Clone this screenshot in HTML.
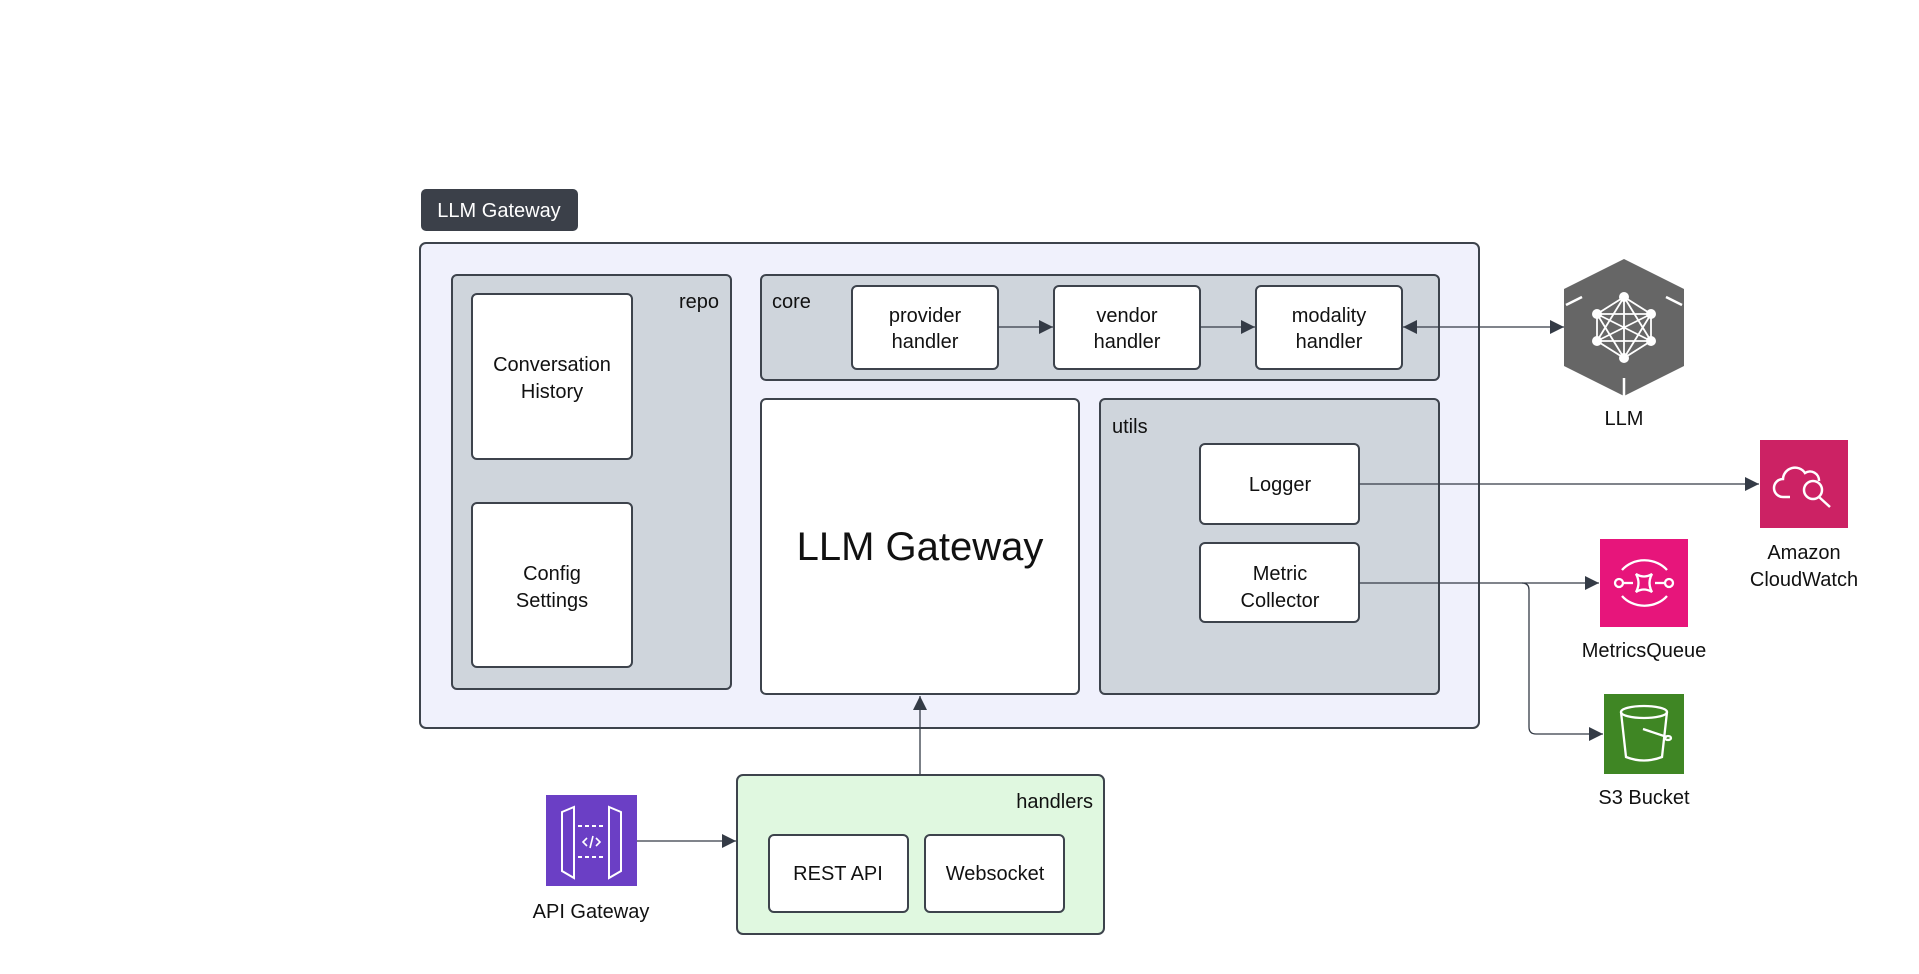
<!DOCTYPE html>
<html><head><meta charset="utf-8"><style>
html,body{margin:0;padding:0;background:#fff;}
svg{display:block;font-family:"Liberation Sans",sans-serif;}
</style></head><body>
<svg width="1919" height="974" viewBox="0 0 1919 974" xmlns="http://www.w3.org/2000/svg">
<defs>
<marker id="arb" viewBox="0 0 10 10" refX="10" refY="5" markerWidth="14" markerHeight="14" markerUnits="userSpaceOnUse" orient="auto-start-reverse"><path d="M0,0 L10,5 L0,10 z" fill="#343b46"/></marker>
</defs>
<g stroke="#3d434c" stroke-width="2">
<rect x="421" y="189" width="157" height="42" rx="5" fill="#3b4049" stroke="none"/>
<rect x="420" y="243" width="1059" height="485" rx="6" fill="#f0f1fc"/>
<rect x="452" y="275" width="279" height="414" rx="5" fill="#cfd5dc"/>
<rect x="472" y="294" width="160" height="165" rx="5" fill="#fff"/>
<rect x="472" y="503" width="160" height="164" rx="5" fill="#fff"/>
<rect x="761" y="275" width="678" height="105" rx="5" fill="#cfd5dc"/>
<rect x="852" y="286" width="146" height="83" rx="5" fill="#fff"/>
<rect x="1054" y="286" width="146" height="83" rx="5" fill="#fff"/>
<rect x="1256" y="286" width="146" height="83" rx="5" fill="#fff"/>
<rect x="761" y="399" width="318" height="295" rx="5" fill="#fff"/>
<rect x="1100" y="399" width="339" height="295" rx="5" fill="#cfd5dc"/>
<rect x="1200" y="444" width="159" height="80" rx="5" fill="#fff"/>
<rect x="1200" y="543" width="159" height="79" rx="5" fill="#fff"/>
<rect x="737" y="775" width="367" height="159" rx="6" fill="#e0f8e0"/>
<rect x="769" y="835" width="139" height="77" rx="5" fill="#fff"/>
<rect x="925" y="835" width="139" height="77" rx="5" fill="#fff"/>
</g>
<g stroke="#343b46" stroke-width="1.3" fill="none">
<line x1="998" y1="327" x2="1053" y2="327" marker-end="url(#arb)"/>
<line x1="1200" y1="327" x2="1255" y2="327" marker-end="url(#arb)"/>
<line x1="1403" y1="327" x2="1564" y2="327" marker-start="url(#arb)" marker-end="url(#arb)"/>
<line x1="1359" y1="484" x2="1759" y2="484" marker-end="url(#arb)"/>
<line x1="1359" y1="583" x2="1599" y2="583" marker-end="url(#arb)"/>
<path d="M1522,583 Q1529,583 1529,590 L1529,727 Q1529,734 1536,734 L1603,734" marker-end="url(#arb)"/>
<line x1="920" y1="774" x2="920" y2="696" marker-end="url(#arb)"/>
<line x1="637" y1="841" x2="736" y2="841" marker-end="url(#arb)"/>
</g>
<polygon points="1624,259 1684,289 1684,366 1624,396 1564,366 1564,289" fill="#666"/>
<g stroke="#fff" stroke-width="2.5" fill="none">
<line x1="1566" y1="305" x2="1582" y2="297"/><line x1="1682" y1="305" x2="1666" y2="297"/><line x1="1624" y1="378" x2="1624" y2="396"/>
<g stroke-width="1.8">
<path d="M1624,297 L1597,314 L1597,341 L1624,358 L1651,341 L1651,314 Z"/>
<path d="M1624,297 L1597,341 L1651,341 Z M1624,358 L1597,314 L1651,314 Z M1624,297 L1624,358 M1597,314 L1651,341 M1651,314 L1597,341"/>
</g>
</g>
<g fill="#fff"><circle cx="1624" cy="297" r="5"/><circle cx="1597" cy="314" r="5"/><circle cx="1651" cy="314" r="5"/><circle cx="1597" cy="341" r="5"/><circle cx="1651" cy="341" r="5"/><circle cx="1624" cy="358" r="5"/></g>
<rect x="1760" y="440" width="88" height="88" fill="#cc2264"/>
<g stroke="#fff" stroke-width="2.5" fill="none">
<path d="M1790,497 h-7 a9,9 0 0 1 0,-18 a12,12 0 0 1 22,-6 a9,9 0 0 1 14,8"/>
<circle cx="1813" cy="490" r="9"/><line x1="1819" y1="497" x2="1830" y2="507"/>
</g>
<rect x="1600" y="539" width="88" height="88" fill="#e7157b"/>
<g stroke="#fff" stroke-width="2.3" fill="none">
<path d="M1622,570 a28,24 0 0 1 45,0 M1622,596 a28,24 0 0 0 45,0"/>
<circle cx="1619" cy="583" r="4"/><circle cx="1669" cy="583" r="4"/>
<path d="M1636,574 q8,5 16,0 q-5,9 0,18 q-8,-5 -16,0 q5,-9 0,-18z"/>
<line x1="1624" y1="583" x2="1633" y2="583"/><line x1="1655" y1="583" x2="1664" y2="583"/>
</g>
<rect x="1604" y="694" width="80" height="80" fill="#3f8624"/>
<g stroke="#fff" stroke-width="2.3" fill="none">
<ellipse cx="1644" cy="712" rx="23" ry="6"/>
<path d="M1621,712 L1626,757 Q1644,764 1662,757 L1667,712"/>
<path d="M1643,729 L1667,737" /><ellipse cx="1668" cy="738" rx="3" ry="2"/>
</g>
<rect x="546" y="795" width="91" height="91" fill="#6b3fc5"/>
<g stroke="#fff" stroke-width="2" fill="none">
<path d="M562,812 L574,807 L574,878 L562,871 Z"/><path d="M621,812 L609,807 L609,878 L621,871 Z"/>
<line x1="578" y1="826" x2="605" y2="826" stroke-dasharray="4,3"/><line x1="578" y1="857" x2="605" y2="857" stroke-dasharray="4,3"/>
<path d="M587,838 l-4,4 l4,4 M596,838 l4,4 l-4,4 M593,836 l-3,12" stroke-width="1.6"/>
</g>
<g fill="#111" font-size="20" text-anchor="middle">
<text x="499" y="217" fill="#fff" font-size="20">LLM Gateway</text>
<text x="719" y="308" text-anchor="end">repo</text>
<text x="772" y="308" text-anchor="start">core</text>
<text x="1112" y="433" text-anchor="start">utils</text>
<text x="1093" y="808" text-anchor="end">handlers</text>
<text x="552" y="371">Conversation</text><text x="552" y="398">History</text>
<text x="552" y="580">Config</text><text x="552" y="607">Settings</text>
<text x="925" y="322">provider</text><text x="925" y="348">handler</text>
<text x="1127" y="322">vendor</text><text x="1127" y="348">handler</text>
<text x="1329" y="322">modality</text><text x="1329" y="348">handler</text>
<text x="920" y="560" font-size="40">LLM Gateway</text>
<text x="1280" y="491">Logger</text>
<text x="1280" y="580">Metric</text><text x="1280" y="607">Collector</text>
<text x="838" y="880">REST API</text>
<text x="995" y="880">Websocket</text>
<text x="1624" y="425">LLM</text>
<text x="1804" y="559">Amazon</text><text x="1804" y="586">CloudWatch</text>
<text x="1644" y="657">MetricsQueue</text>
<text x="1644" y="804">S3 Bucket</text>
<text x="591" y="918">API Gateway</text>
</g>
</svg>
</body></html>
